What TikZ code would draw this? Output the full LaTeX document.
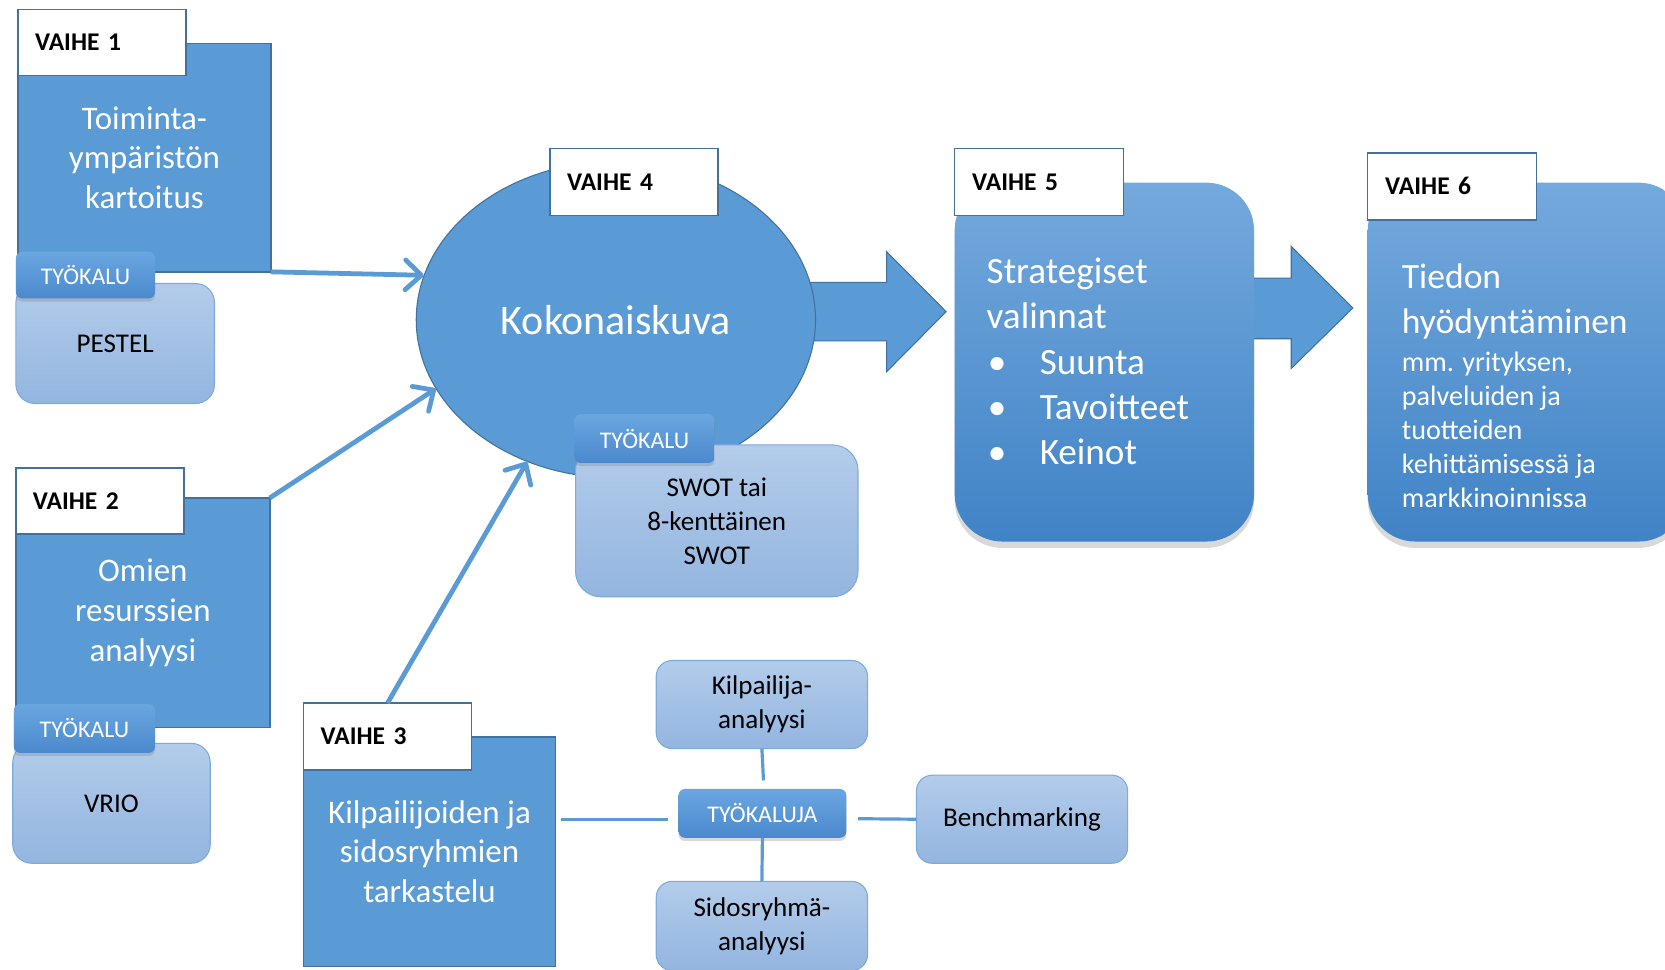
\documentclass[tikz,border=0pt]{standalone}
\usepackage{fontspec}
\setmainfont{Carlito}
\usetikzlibrary{shadows,arrows.meta,calc,shapes.geometric}
\definecolor{mainblue}{HTML}{5B9BD5}
\definecolor{darkborder}{HTML}{41719C}
\definecolor{lighttop}{HTML}{B3CCEA}
\definecolor{lightbot}{HTML}{93B5DF}
\definecolor{lightborder}{HTML}{7EA9DB}
\definecolor{tooltop}{HTML}{6AA6E0}
\definecolor{toolbot}{HTML}{4A89CD}
\definecolor{bigtop}{HTML}{74A9DD}
\definecolor{bigbot}{HTML}{4083C6}
\begin{document}
\begin{tikzpicture}[x=1pt,y=-1pt,
  phase/.style={draw=darkborder, line width=1.5pt, fill=mainblue, anchor=north west,
    inner sep=0pt, outer sep=0pt, text=white, align=center,
    font=\fontsize{31}{37.5}\selectfont},
  vlabel/.style={draw=darkborder, line width=1.5pt, fill=white, anchor=north west,
    inner xsep=16pt, inner ysep=0pt, outer sep=0pt, minimum width=158pt,
    minimum height=62pt, text width=126pt, align=left,
    font=\bfseries\fontsize{24}{28}\selectfont},
  toolbox/.style={rounded corners=6pt, top color=tooltop, bottom color=toolbot,
    draw=none, anchor=north west, inner sep=0pt, outer sep=0pt, text=white,
    font=\fontsize{22.5}{26}\selectfont,
    drop shadow={shadow xshift=0pt, shadow yshift=-3pt, opacity=0.3}},
  lightbox/.style={rounded corners=18pt, top color=lighttop, bottom color=lightbot,
    draw=lightborder, line width=1pt, anchor=north west, inner sep=0pt,
    outer sep=0pt, text=black, align=center, font=\fontsize{25.5}{32}\selectfont},
  bigbox/.style={rounded corners=45pt, top color=bigtop, bottom color=bigbot,
    draw=none, anchor=north west, inner sep=0pt, outer sep=0pt,
    drop shadow={shadow xshift=0pt, shadow yshift=-6pt, opacity=0.3}},
  blockarrow/.style={fill=mainblue, draw=darkborder, line width=1pt},
  conn/.style={draw=mainblue, line width=4.5pt,
    -{Straight Barb[length=15pt, width=28pt, line width=4.5pt, round]}},
  tline/.style={draw=mainblue, line width=3pt},
  whitetext/.style={text=white, anchor=north west, inner sep=0pt, align=left}
]
\useasboundingbox (0,0) rectangle (1568,913);
\clip (0,0) rectangle (1568,913);

% block arrows
\path[blockarrow] (760,266) -- (835,266) -- (835,237) -- (891,293.5) -- (835,350) -- (835,321) -- (760,321) -- cycle;
\path[blockarrow] (1170,262) -- (1216,262) -- (1216,232) -- (1274,290) -- (1216,347) -- (1216,319) -- (1170,319) -- cycle;

% VAIHE 1
\node[phase, minimum width=238pt, minimum height=215pt] (ph1) at (17,41) {Toiminta-\\ympäristön\\kartoitus};
\node[vlabel] (lab1) at (17,9) {VAIHE 1};
\node[lightbox, minimum width=187pt, minimum height=113pt] (pestel) at (15,267) {PESTEL};
\node[toolbox, minimum width=131pt, minimum height=44pt] (tool1) at (15,237) {TYÖKALU};

% VAIHE 2
\node[phase, minimum width=239pt, minimum height=216pt] (ph2) at (15,469) {Omien\\resurssien\\analyysi};
\node[vlabel, minimum width=157pt] (lab2) at (15,441) {VAIHE 2};
\node[lightbox, minimum width=186pt, minimum height=113pt] (vrio) at (12,700) {VRIO};
\node[toolbox, minimum width=133pt, minimum height=46pt] (tool2) at (13,663) {TYÖKALU};

% VAIHE 3
\node[phase, minimum width=237pt, minimum height=216pt] (ph3) at (286,694) {Kilpailijoiden ja\\sidosryhmien\\tarkastelu};
\node[vlabel, minimum width=157pt, minimum height=63pt] (lab3) at (286,662) {VAIHE 3};

% VAIHE 4
\node[ellipse, minimum width=376pt, minimum height=298pt, draw=darkborder, line width=1pt,
  fill=mainblue, inner sep=0pt, text=white, font=\fontsize{39.5}{45}\selectfont] (ell) at (580,301) {Kokonaiskuva};
\node[vlabel, minimum height=63pt] (lab4) at (518,140) {VAIHE 4};
\node[lightbox, rounded corners=24pt, minimum width=266pt, minimum height=143pt] (swot) at (542,419) {SWOT tai\\8-kenttäinen\\SWOT};
\node[toolbox, minimum width=132pt, minimum height=46pt] (tool4) at (541,390) {TYÖKALU};

% connectors into VAIHE 4
\draw[conn] (ph1.south east) -- (ell.167);
\draw[conn] (ph2.north east) -- (ell.201);
\draw[conn] (lab3.north) -- (ell.238);

% VAIHE 5
\node[bigbox, minimum width=282pt, minimum height=338pt] (ph5) at (899,172) {};
\node[vlabel, minimum width=159pt, minimum height=63pt] (lab5) at (899,140) {VAIHE 5};
\node[whitetext, font=\fontsize{35}{42.5}\selectfont] (t5) at (929,243)
  {Strategiset\\valinnat\\\makebox[50pt][l]{\hspace{1pt}•}Suunta\\\makebox[50pt][l]{\hspace{1pt}•}Tavoitteet\\\makebox[50pt][l]{\hspace{1pt}•}Keinot};

% VAIHE 6
\node[bigbox, minimum width=300pt, minimum height=338pt] (ph6) at (1288,172) {};
\node[vlabel, minimum width=159pt, minimum height=63pt] (lab6) at (1288,144) {VAIHE 6};
\node[whitetext, font=\fontsize{33.5}{43}\selectfont] (t6a) at (1320,248) {Tiedon\\hyödyntäminen};
\node[whitetext, font=\fontsize{26.5}{32}\selectfont] (t6b) at (1320,331) {mm. yrityksen,\\palveluiden ja\\tuotteiden\\kehittämisessä ja\\markkinoinnissa};

% tools group
\node[lightbox, rounded corners=15pt, minimum width=199pt, minimum height=83pt] (kil) at (618,622) {Kilpailija-\\analyysi};
\node[lightbox, rounded corners=15pt, minimum width=199pt, minimum height=83pt] (bench) at (863,730) {Benchmarking};
\node[lightbox, rounded corners=15pt, minimum width=199pt, minimum height=84pt] (sid) at (618,830) {Sidosryhmä-\\analyysi};
\draw[tline] ($(ph3.east)+(5,-30)$) -- (629,772) coordinate (tl);
\node[toolbox, minimum width=158pt, minimum height=46pt] (tools) at (639,743) {TYÖKALUJA};
\draw[tline] ($(tools.east)+(11,5)$) -- (bench.west);
\draw[tline] (kil.south) -- ($(tools.north)+(1,-8)$);
\draw[tline] (tools.south) -- (sid.north);
\end{tikzpicture}
\end{document}
